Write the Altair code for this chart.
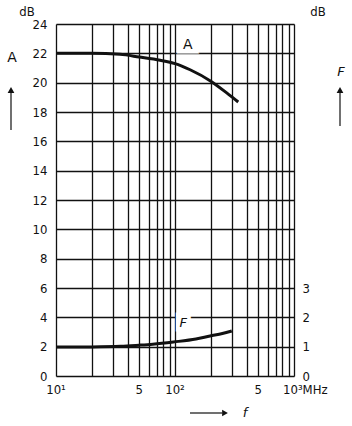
import altair as alt
import pandas as pd

# Curve A (dB) vs frequency (MHz)
a_freq = [10, 20, 34.5, 50, 75, 100, 134, 200, 272, 340]
a_db = [22.0, 22.0, 21.93, 21.75, 21.53, 21.3, 20.88, 20.1, 19.3, 18.68]
# Curve F (plotted on left dB scale, right scale = left/2)
f_freq = [10, 20, 35, 50, 65, 97, 150, 197, 250, 300]
f_db = [1.97, 1.98, 2.02, 2.1, 2.17, 2.32, 2.52, 2.73, 2.9, 3.07]

x_grid = [10, 20, 30, 40, 50, 60, 70, 80, 90, 100, 200, 300, 400, 500, 600, 700, 800, 900, 1000]
y_left_ticks = list(range(0, 25, 2))
y_right_ticks = [0, 2, 4, 6]
x_label_pos = [10, 50, 100, 500]
x_label_txt = ["10¹", "5", "10²", "5"]

FONT = "DejaVu Sans Condensed, Liberation Sans Narrow, DejaVu Sans"
INK = "#111111"

df_a = pd.DataFrame({"f": a_freq, "v": a_db})
df_f = pd.DataFrame({"f": f_freq, "v": f_db})
df_xl = pd.DataFrame({"f": x_label_pos, "t": x_label_txt})

xs = alt.Scale(type="log", domain=[10, 1000], nice=False)
ys = alt.Scale(domain=[0, 24], nice=False, zero=False)

XA = alt.X("f:Q", scale=xs, axis=alt.Axis(values=x_grid, grid=True, labels=False, ticks=False,
                                          domain=False, title=None, gridColor=INK,
                                          gridWidth=1.3, gridOpacity=1))
YN = alt.Y("v:Q", scale=ys, axis=None)

line_a = alt.Chart(df_a).mark_line(color=INK, strokeWidth=3, interpolate="monotone").encode(
    x=XA,
    y=alt.Y("v:Q", scale=ys, axis=alt.Axis(values=y_left_ticks, grid=True, ticks=False, domain=False,
                                          title=None, gridColor=INK, gridWidth=1.3, gridOpacity=1,
                                          labelFont=FONT, labelFontSize=13, labelColor=INK,
                                          labelPadding=9)),
)

line_f = alt.Chart(df_f).mark_line(color=INK, strokeWidth=3, interpolate="monotone").encode(
    x=XA,
    y=alt.Y("v:Q", scale=ys, axis=alt.Axis(orient="right", values=y_right_ticks, labelExpr="datum.value/2",
                                          grid=False, ticks=False, domain=False, title=None,
                                          labelFont=FONT, labelFontSize=13, labelColor=INK,
                                          labelPadding=8)),
)

xlab = alt.Chart(df_xl).mark_text(font=FONT, fontSize=13, color=INK, baseline="top", dy=8).encode(
    x=XA, y=alt.value(352), text="t:N")
xlab_last = alt.Chart(pd.DataFrame({"f": [1000], "t": ["10³MHz"]})).mark_text(
    font=FONT, fontSize=13, color=INK, baseline="top", dy=8, align="left", dx=-11).encode(
    x=XA, y=alt.value(352), text="t:N")

lbl_df = pd.DataFrame({"f": [128, 117], "v": [22.6, 3.6], "t": ["A", "F"]})
lbl_bg = alt.Chart(lbl_df).mark_text(font="DejaVu Sans", fontSize=14, color="white", stroke="white",
                                     strokeWidth=9).encode(x=XA, y=YN, text="t:N")
lbl_a = alt.Chart(lbl_df.iloc[[0]]).mark_text(font="DejaVu Sans", fontSize=14, color=INK).encode(
    x=XA, y=YN, text="t:N")
lbl_f = alt.Chart(lbl_df.iloc[[1]]).mark_text(font="DejaVu Sans", fontSize=13, color=INK,
                                              fontStyle="italic").encode(x=XA, y=YN, text="t:N")

# pixel annotations (relative to plot origin at 56,24)
def txt(t, x, y, size=13, style="normal", font=FONT):
    return alt.Chart(pd.DataFrame({"t": [t]})).mark_text(
        font=font, fontSize=size, color=INK, fontStyle=style).encode(
        x=alt.value(x), y=alt.value(y), text="t:N")

def vrule(x, y1, y2):
    return alt.Chart(pd.DataFrame({"a": [0]})).mark_rule(color=INK, strokeWidth=1.2).encode(
        x=alt.value(x), y=alt.value(y1), y2=alt.value(y2))

def hrule(y, x1, x2):
    return alt.Chart(pd.DataFrame({"a": [0]})).mark_rule(color=INK, strokeWidth=1.2).encode(
        y=alt.value(y), x=alt.value(x1), x2=alt.value(x2))

def head(x, y, shape):
    return alt.Chart(pd.DataFrame({"a": [0]})).mark_point(
        shape=shape, filled=True, color=INK, opacity=1, size=45).encode(
        x=alt.value(x), y=alt.value(y))

ann = [
    txt("dB", 27 - 56, 12 - 24),
    txt("dB", 318 - 56, 12 - 24),
    txt("A", 12 - 56, 58 - 24, size=14, font="DejaVu Sans"),
    vrule(11 - 56, 92 - 24, 130 - 24),
    head(11 - 56, 90 - 24, "triangle-up"),
    txt("F", 341 - 56, 72 - 24, size=13, style="italic", font="DejaVu Sans"),
    vrule(340 - 56, 92 - 24, 126 - 24),
    head(340 - 56, 90 - 24, "triangle-up"),
    hrule(413 - 24, 190 - 56, 222 - 56),
    head(225 - 56, 413 - 24, "triangle-right"),
    txt("f", 245 - 56, 413 - 24, size=13, style="italic", font="DejaVu Sans"),
]

chart = alt.layer(line_a, line_f, xlab, xlab_last, lbl_bg, lbl_a, lbl_f, *ann).resolve_axis(
    y="independent").properties(
    width=238, height=352, autosize=alt.AutoSizeParams(type="none"),
    padding={"left": 56, "top": 24, "right": 58, "bottom": 50},
).configure_view(stroke=None).configure(background="white")

chart.save("out.html", embed_options={"renderer": "svg", "actions": False})
